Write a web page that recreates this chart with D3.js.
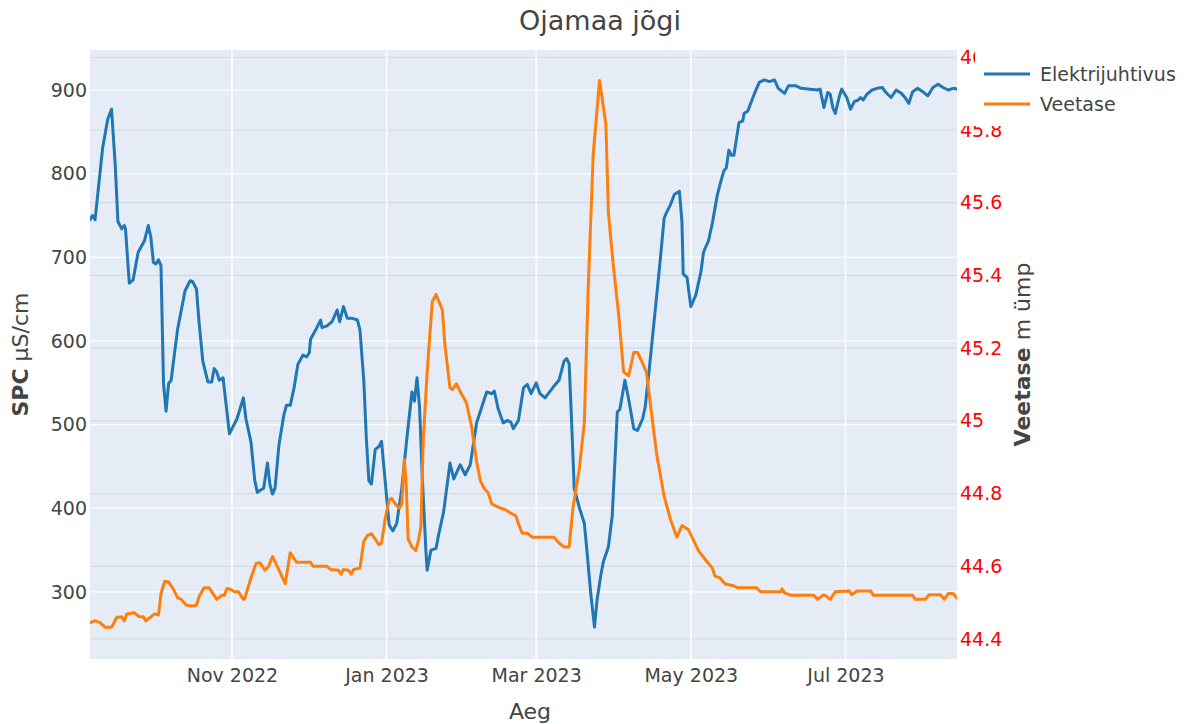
<!DOCTYPE html>
<html>
<head>
<meta charset="utf-8">
<title>Ojamaa jõgi</title>
<script src="https://cdn.jsdelivr.net/npm/d3@7"></script>
<style>
  html, body { margin: 0; padding: 0; background: #fff; }
  svg { display: block; font-family: "DejaVu Sans", Verdana, sans-serif; }
</style>
</head>
<body>
<svg id="chart" width="1189" height="724"></svg>
<script>
// Elektrijuhtivus (SPC, µS/cm)
const spcDates = [
  "2022-09-06","2022-09-07","2022-09-08","2022-09-11","2022-09-13","2022-09-14T12","2022-09-16","2022-09-17",
  "2022-09-18T12","2022-09-19T12","2022-09-20","2022-09-21T12","2022-09-23","2022-09-25","2022-09-27","2022-09-27T12",
  "2022-09-29","2022-09-30","2022-10-01","2022-10-02","2022-10-03","2022-10-04","2022-10-05","2022-10-06",
  "2022-10-07","2022-10-08","2022-10-10T12","2022-10-13T12","2022-10-15T12","2022-10-16T12","2022-10-18","2022-10-19",
  "2022-10-20T12","2022-10-22T12","2022-10-24","2022-10-25","2022-10-26","2022-10-27","2022-10-28T12","2022-10-31",
  "2022-11-03","2022-11-05T12","2022-11-06T12","2022-11-08T12","2022-11-10","2022-11-11","2022-11-12T12","2022-11-13T12",
  "2022-11-15","2022-11-16","2022-11-17","2022-11-18","2022-11-19T12","2022-11-21T12","2022-11-22T12","2022-11-24",
  "2022-11-25T12","2022-11-27","2022-11-29","2022-11-30T12","2022-12-01T12","2022-12-02","2022-12-04","2022-12-06",
  "2022-12-06T12","2022-12-08T12","2022-12-10T12","2022-12-12T12","2022-12-13T12","2022-12-15","2022-12-16T12","2022-12-18T12",
  "2022-12-20T12","2022-12-21T12","2022-12-23","2022-12-24","2022-12-25","2022-12-26","2022-12-27T12","2022-12-29",
  "2022-12-30","2022-12-31","2023-01-02","2023-01-03T12","2023-01-05","2023-01-07","2023-01-09","2023-01-11",
  "2023-01-12","2023-01-13","2023-01-14","2023-01-15","2023-01-16T12","2023-01-17","2023-01-18T12","2023-01-20T12",
  "2023-01-21T12","2023-01-23T12","2023-01-26","2023-01-27T12","2023-01-30","2023-02-01","2023-02-03","2023-02-05T12",
  "2023-02-08T12","2023-02-09T12","2023-02-11T12","2023-02-12T12","2023-02-14","2023-02-16","2023-02-17T12","2023-02-19",
  "2023-02-20","2023-02-22","2023-02-24","2023-02-25T12","2023-02-27","2023-03-01","2023-03-02T12","2023-03-04T12",
  "2023-03-07T12","2023-03-10","2023-03-12","2023-03-13","2023-03-14","2023-03-15","2023-03-16","2023-03-18",
  "2023-03-20","2023-03-21","2023-03-22T12","2023-03-24","2023-03-25","2023-03-26T12","2023-03-27T12","2023-03-29T12",
  "2023-03-31","2023-04-02","2023-04-03","2023-04-05","2023-04-06T12","2023-04-08T12","2023-04-10","2023-04-12",
  "2023-04-13","2023-04-14T12","2023-04-16T12","2023-04-18T12","2023-04-20T12","2023-04-21T12","2023-04-23","2023-04-24T12",
  "2023-04-26T12","2023-04-27T12","2023-04-28","2023-04-29T12","2023-05-01","2023-05-03","2023-05-05","2023-05-06",
  "2023-05-08","2023-05-09T12","2023-05-11T12","2023-05-12T12","2023-05-14","2023-05-15","2023-05-16","2023-05-17",
  "2023-05-18","2023-05-20","2023-05-21T12","2023-05-22","2023-05-23T12","2023-05-26","2023-05-28","2023-05-30",
  "2023-06-01","2023-06-03","2023-06-04T12","2023-06-07","2023-06-08T12","2023-06-11T12","2023-06-13T12","2023-06-17",
  "2023-06-20","2023-06-21","2023-06-22T12","2023-06-24","2023-06-25","2023-06-26","2023-06-27","2023-06-28T12",
  "2023-06-29T12","2023-07-01T12","2023-07-03","2023-07-04T12","2023-07-06","2023-07-07","2023-07-08","2023-07-09T12",
  "2023-07-11T12","2023-07-13T12","2023-07-15T12","2023-07-17","2023-07-19","2023-07-21","2023-07-23","2023-07-24T12",
  "2023-07-26","2023-07-27T12","2023-07-29T12","2023-07-31T12","2023-08-02T12","2023-08-04T12","2023-08-06T12","2023-08-08T12",
  "2023-08-10T12","2023-08-12T12","2023-08-14"
];
const spcValues = [
  745, 750, 745, 831, 865, 877, 808, 743,
  734, 738, 734, 669, 673, 706, 717, 720,
  738, 724, 694, 692, 697, 690, 549, 516,
  549, 553, 613, 660, 672, 671, 662, 623,
  576, 551, 551, 567, 563, 553, 556, 489,
  507, 532, 507, 479, 433, 419, 422, 424,
  454, 428, 417, 424, 475, 512, 523, 523,
  544, 572, 583, 581, 586, 602, 613, 625,
  616, 618, 623, 637, 623, 641, 627, 627,
  625, 613, 553, 484, 433, 429, 470, 474,
  480, 447, 380, 373, 382, 424, 484, 539,
  528, 556, 521, 442, 349, 326, 350, 352,
  368, 396, 454, 435, 452, 440, 452, 502,
  530, 539, 537, 540, 519, 502, 505, 503,
  495, 505, 544, 548, 537, 550, 537, 532,
  544, 553, 576, 579, 573, 502, 424, 401,
  382, 350, 299, 258, 290, 320, 336, 354,
  391, 515, 518, 553, 530, 495, 493, 507,
  521, 563, 623, 683, 747, 754, 763, 775,
  779, 742, 680, 676, 641, 655, 683, 706,
  720, 741, 775, 787, 803, 807, 828, 822,
  822, 861, 863, 872, 875, 895, 909, 912,
  910, 912, 902, 896, 905, 905, 902, 901,
  900, 901, 879, 897, 895, 879, 872, 891,
  901, 891, 877, 886, 888, 891, 888, 895,
  900, 902, 903, 897, 891, 900, 896, 891,
  884, 898, 902, 898, 893, 903, 907, 903,
  900, 902, 901
];

// Veetase (m ümp)
const levelDates = [
  "2022-09-06","2022-09-08","2022-09-10","2022-09-12","2022-09-14T12","2022-09-16T12","2022-09-18T12","2022-09-19T12",
  "2022-09-20T12","2022-09-23T12","2022-09-25T12","2022-09-27","2022-09-28","2022-09-30","2022-10-01T12","2022-10-03",
  "2022-10-04","2022-10-05T12","2022-10-07","2022-10-09","2022-10-10T12","2022-10-12","2022-10-14","2022-10-16T12",
  "2022-10-18","2022-10-19","2022-10-21","2022-10-23","2022-10-24T12","2022-10-26","2022-10-28","2022-10-29",
  "2022-10-30","2022-10-31T12","2022-11-02","2022-11-03T12","2022-11-05T12","2022-11-06","2022-11-08T12","2022-11-10T12",
  "2022-11-12","2022-11-14","2022-11-15T12","2022-11-17","2022-11-18T12","2022-11-22","2022-11-24","2022-11-26T12",
  "2022-12-02","2022-12-03","2022-12-08T12","2022-12-10","2022-12-13","2022-12-14","2022-12-15","2022-12-17",
  "2022-12-18","2022-12-19","2022-12-21T12","2022-12-23","2022-12-24T12","2022-12-26","2022-12-27T12","2022-12-29",
  "2022-12-30","2022-12-31T12","2023-01-02","2023-01-03","2023-01-04T12","2023-01-06","2023-01-07","2023-01-08",
  "2023-01-08T18","2023-01-09T12","2023-01-11","2023-01-12T12","2023-01-13T12","2023-01-14T12","2023-01-15T12","2023-01-17",
  "2023-01-19","2023-01-20T12","2023-01-23","2023-01-24","2023-01-26","2023-01-27","2023-01-28T12","2023-01-30",
  "2023-01-31T12","2023-02-01T12","2023-02-03T12","2023-02-05T12","2023-02-07","2023-02-08T12","2023-02-10","2023-02-11T12",
  "2023-02-13T12","2023-02-15","2023-02-17","2023-02-19T12","2023-02-21","2023-02-22","2023-02-23T12","2023-02-25T12",
  "2023-02-27T12","2023-03-08","2023-03-10","2023-03-12","2023-03-14","2023-03-15T12","2023-03-18","2023-03-20",
  "2023-03-21T12","2023-03-23T12","2023-03-26","2023-03-28T12","2023-03-29T12","2023-03-31T12","2023-04-02T12","2023-04-04T12",
  "2023-04-06T12","2023-04-08T12","2023-04-10","2023-04-11T12","2023-04-13T12","2023-04-15","2023-04-17T12","2023-04-20T12",
  "2023-04-23","2023-04-25T12","2023-04-27T12","2023-04-30","2023-05-01T12","2023-05-04","2023-05-07","2023-05-09T12",
  "2023-05-10T12","2023-05-12T12","2023-05-14T12","2023-05-18","2023-05-19T12","2023-05-27","2023-05-28T12","2023-06-05T12",
  "2023-06-06","2023-06-07","2023-06-09T12","2023-06-18T12","2023-06-20","2023-06-22","2023-06-23","2023-06-25",
  "2023-06-27","2023-07-02T12","2023-07-03T12","2023-07-05T12","2023-07-11","2023-07-12","2023-07-27T12","2023-07-28T12",
  "2023-08-01T12","2023-08-03","2023-08-07T12","2023-08-09","2023-08-10T12","2023-08-12T12","2023-08-14"
];
const levelValues = [
  44.445, 44.450, 44.445, 44.432, 44.432, 44.459, 44.461, 44.450,
  44.469, 44.472, 44.461, 44.461, 44.450, 44.461, 44.469, 44.466,
  44.525, 44.559, 44.557, 44.536, 44.514, 44.509, 44.493, 44.491,
  44.493, 44.516, 44.541, 44.541, 44.525, 44.509, 44.520, 44.520,
  44.539, 44.536, 44.530, 44.530, 44.509, 44.511, 44.568, 44.608,
  44.610, 44.589, 44.600, 44.627, 44.605, 44.552, 44.637, 44.611,
  44.611, 44.600, 44.600, 44.591, 44.589, 44.578, 44.591, 44.589,
  44.578, 44.591, 44.595, 44.669, 44.685, 44.690, 44.675, 44.659,
  44.664, 44.733, 44.782, 44.787, 44.771, 44.760, 44.771, 44.894,
  44.824, 44.675, 44.653, 44.643, 44.669, 44.707, 44.953, 45.134,
  45.327, 45.348, 45.305, 45.209, 45.091, 45.086, 45.102, 45.081,
  45.062, 45.049, 44.985, 44.888, 44.835, 44.814, 44.803, 44.771,
  44.765, 44.760, 44.755, 44.744, 44.739, 44.717, 44.691, 44.691,
  44.680, 44.680, 44.664, 44.653, 44.653, 44.760, 44.867, 44.995,
  45.359, 45.733, 45.936, 45.815, 45.572, 45.422, 45.295, 45.134,
  45.124, 45.188, 45.188, 45.166, 45.134, 45.049, 44.910, 44.792,
  44.728, 44.680, 44.712, 44.701, 44.680, 44.643, 44.616, 44.595,
  44.573, 44.568, 44.552, 44.546, 44.541, 44.541, 44.530, 44.530,
  44.538, 44.527, 44.520, 44.520, 44.509, 44.520, 44.520, 44.509,
  44.530, 44.532, 44.522, 44.532, 44.532, 44.520, 44.520, 44.509,
  44.509, 44.522, 44.522, 44.509, 44.525, 44.525, 44.512
];

// Axis ticks
const xTickDates = ["2022-11-01", "2023-01-01", "2023-03-01", "2023-05-01", "2023-07-01"];
const spcTicks = [300, 400, 500, 600, 700, 800, 900];
const levelTicks = [44.4, 44.6, 44.8, 45, 45.2, 45.4, 45.6, 45.8, 46];
const seriesNames = ["Elektrijuhtivus", "Veetase"];
const seriesColors = ["#1f77b4", "#ff7f0e"];

const parseDay = d3.utcParse("%Y-%m-%d");
const parseHour = d3.utcParse("%Y-%m-%dT%H");
const parseDate = s => s.length > 10 ? parseHour(s) : parseDay(s);

const spcData = spcDates.map((d, i) => ({ date: parseDate(d), value: spcValues[i] }));
const levelData = levelDates.map((d, i) => ({ date: parseDate(d), value: levelValues[i] }));

const plot = { left: 90, right: 957, top: 50, bottom: 659 };
const svg = d3.select("#chart");
const font = "DejaVu Sans, Verdana, sans-serif";
const textColor = "#444444";

const allDates = spcData.map(d => d.date).concat(levelData.map(d => d.date));
const x = d3.scaleUtc().domain(d3.extent(allDates)).range([plot.left, plot.right]);
const ySpc = d3.scaleLinear().domain([219.8, 947.8]).range([plot.bottom, plot.top]);
const yLevel = d3.scaleLinear().domain([44.345, 46.02]).range([plot.bottom, plot.top]);

// plot background
svg.append("rect")
  .attr("x", plot.left).attr("y", plot.top)
  .attr("width", plot.right - plot.left).attr("height", plot.bottom - plot.top)
  .attr("fill", "#e5ecf6");

// secondary axis grid
svg.append("g").selectAll("line").data(levelTicks).join("line")
  .attr("x1", plot.left).attr("x2", plot.right)
  .attr("y1", d => yLevel(d)).attr("y2", d => yLevel(d))
  .attr("stroke", "#d3d9e3").attr("stroke-width", 1.2);

// primary grid
svg.append("g").selectAll("line").data(spcTicks).join("line")
  .attr("x1", plot.left).attr("x2", plot.right)
  .attr("y1", d => ySpc(d)).attr("y2", d => ySpc(d))
  .attr("stroke", "#ffffff").attr("stroke-width", 1.2);

svg.append("g").selectAll("line").data(xTickDates.map(parseDay)).join("line")
  .attr("x1", d => x(d)).attr("x2", d => x(d))
  .attr("y1", plot.top).attr("y2", plot.bottom)
  .attr("stroke", "#ffffff").attr("stroke-width", 1.5);

// lines
svg.append("clipPath").attr("id", "plot-clip")
  .append("rect")
  .attr("x", plot.left).attr("y", plot.top)
  .attr("width", plot.right - plot.left).attr("height", plot.bottom - plot.top);

const spcLine = d3.line().x(d => x(d.date)).y(d => ySpc(d.value));
const levelLine = d3.line().x(d => x(d.date)).y(d => yLevel(d.value));

const lines = svg.append("g").attr("clip-path", "url(#plot-clip)");
lines.append("path").datum(spcData)
  .attr("d", spcLine).attr("fill", "none")
  .attr("stroke", seriesColors[0]).attr("stroke-width", 3)
  .attr("stroke-linejoin", "round").attr("stroke-linecap", "round");
lines.append("path").datum(levelData)
  .attr("d", levelLine).attr("fill", "none")
  .attr("stroke", seriesColors[1]).attr("stroke-width", 3)
  .attr("stroke-linejoin", "round").attr("stroke-linecap", "round");

// x axis
const xAxis = d3.axisBottom(x)
  .tickValues(xTickDates.map(parseDay))
  .tickFormat(d3.utcFormat("%b %Y"))
  .tickSize(0).tickPadding(10);
const gx = svg.append("g").attr("transform", `translate(0,${plot.bottom})`).call(xAxis);
gx.select(".domain").remove();
gx.selectAll("text").attr("font-size", 19).attr("font-family", font).attr("fill", textColor);

// left axis
const yAxisL = d3.axisLeft(ySpc).tickValues(spcTicks).tickSize(0).tickPadding(3);
const gl = svg.append("g").attr("transform", `translate(${plot.left},0)`).call(yAxisL);
gl.select(".domain").remove();
gl.selectAll("text").attr("font-size", 19).attr("font-family", font).attr("fill", textColor);

// right axis
const yAxisR = d3.axisRight(yLevel).tickValues(levelTicks)
  .tickFormat(d => d3.format("~g")(d)).tickSize(0).tickPadding(3);
const gr = svg.append("g").attr("transform", `translate(${plot.right},0)`).call(yAxisR);
gr.select(".domain").remove();
gr.selectAll("text").attr("font-size", 19).attr("font-family", font).attr("fill", "#ff0000");

// axis titles
svg.append("text")
  .attr("x", 530).attr("y", 719)
  .attr("text-anchor", "middle").attr("font-size", 22).attr("font-family", font).attr("fill", textColor)
  .text("Aeg");

const tl = svg.append("text")
  .attr("transform", `translate(28,${(plot.top + plot.bottom) / 2}) rotate(-90)`)
  .attr("text-anchor", "middle").attr("font-size", 22).attr("font-family", font).attr("fill", textColor);
tl.append("tspan").attr("font-weight", "bold").text("SPC");
tl.append("tspan").text(" µS/cm");

const tr = svg.append("text")
  .attr("transform", `translate(1030,${(plot.top + plot.bottom) / 2}) rotate(-90)`)
  .attr("text-anchor", "middle").attr("font-size", 22).attr("font-family", font).attr("fill", textColor);
tr.append("tspan").attr("font-weight", "bold").text("Veetase");
tr.append("tspan").text(" m ümp");

// title
svg.append("text")
  .attr("x", 600).attr("y", 30)
  .attr("text-anchor", "middle").attr("font-size", 27).attr("font-family", font).attr("fill", textColor)
  .text("Ojamaa jõgi");

// legend
const legend = svg.append("g");
legend.append("path")
  .attr("d", "M975,40 H1189 V126 H958 V117 H975 Z")
  .attr("fill", "#ffffff");
seriesNames.forEach((name, i) => {
  const yy = 74 + i * 30;
  legend.append("line")
    .attr("x1", 984).attr("x2", 1030).attr("y1", yy).attr("y2", yy)
    .attr("stroke", seriesColors[i]).attr("stroke-width", 3);
  legend.append("text")
    .attr("x", 1040).attr("y", yy + 7)
    .attr("font-size", 19).attr("font-family", font).attr("fill", textColor)
    .text(name);
});
</script>
</body>
</html>
